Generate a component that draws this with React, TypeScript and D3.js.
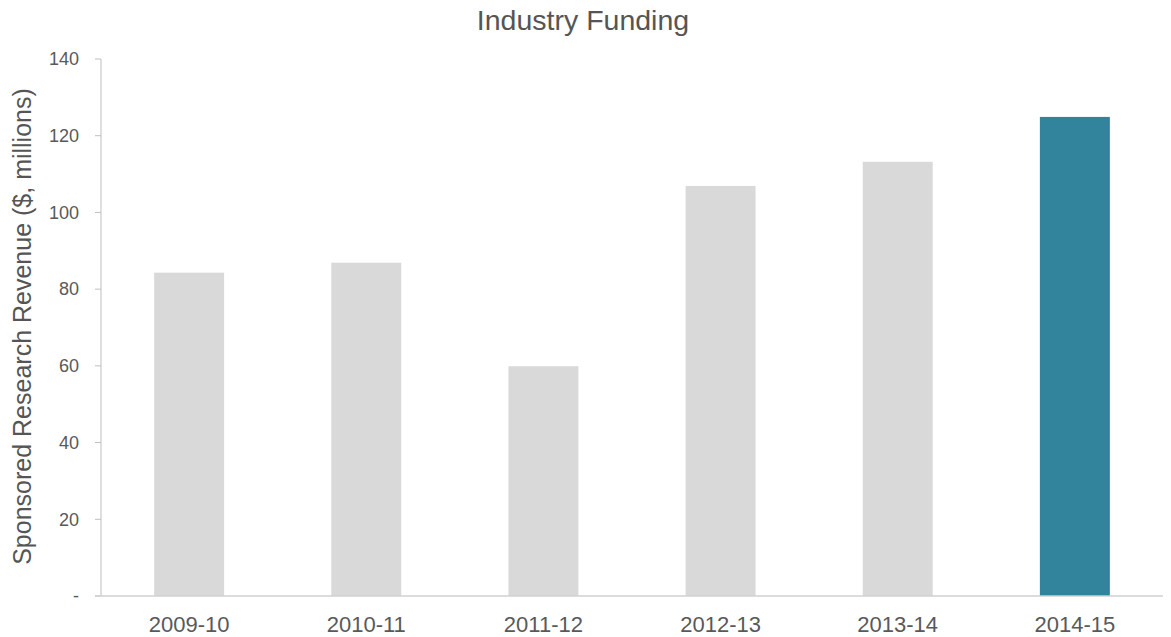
import React from "react";
import * as d3 from "d3";

const categories = ["2009-10", "2010-11", "2011-12", "2012-13", "2013-14", "2014-15"];
const values = [84.3, 86.9, 59.9, 106.9, 113.2, 124.9];
const yTicks = [0, 20, 40, 60, 80, 100, 120, 140];
const title = "Industry Funding";
const yLabel = "Sponsored Research Revenue ($, millions)";

const W = 1171;
const H = 637;
const margin = { left: 101, right: 8, top: 59, bottom: 41 };

export default function App() {
  const x = d3
    .scaleBand<string>()
    .domain(categories)
    .range([margin.left, 1163])
    .paddingInner(0.605)
    .paddingOuter(0.3);
  const y = d3.scaleLinear().domain([0, 140]).range([596, margin.top]);
  const font = "'Helvetica Neue', 'Liberation Sans', Arial, sans-serif";
  return (
    <svg
      width={W}
      height={H}
      style={{ position: "absolute", left: 0, top: 0 }}
      fontFamily={font}
    >
      <text x={583} y={30} textAnchor="middle" fontSize={28.5} fill="#555">
        {title}
      </text>
      <text
        transform={`translate(31,${(y(0) + y(140)) / 2 - 1}) rotate(-90)`}
        textAnchor="middle"
        fontSize={25}
        fill="#555"
      >
        {yLabel}
      </text>
      {categories.map((c, i) => (
        <rect
          key={c}
          x={x(c)}
          y={y(values[i])}
          width={x.bandwidth()}
          height={y(0) - y(values[i])}
          fill={i === categories.length - 1 ? "#31849b" : "#d9d9d9"}
        />
      ))}
      <line x1={margin.left} x2={margin.left} y1={y(140)} y2={y(0)} stroke="#bfbfbf" />
      {yTicks.map((t) => (
        <g key={t}>
          <line x1={95} x2={margin.left} y1={y(t)} y2={y(t)} stroke="#bfbfbf" />
          <text
            x={79}
            y={y(t)}
            dy="0.35em"
            textAnchor="end"
            fontSize={18}
            fill="#595959"
          >
            {t === 0 ? "-" : t}
          </text>
        </g>
      ))}
      <line x1={95} x2={1163} y1={y(0)} y2={y(0)} stroke="#d0d0d0" strokeWidth={1.5} />
      {categories.map((c) => (
        <text
          key={c}
          x={(x(c) as number) + x.bandwidth() / 2}
          y={624}
          dy="0.35em"
          textAnchor="middle"
          fontSize={22}
          fill="#595959"
        >
          {c}
        </text>
      ))}
    </svg>
  );
}
